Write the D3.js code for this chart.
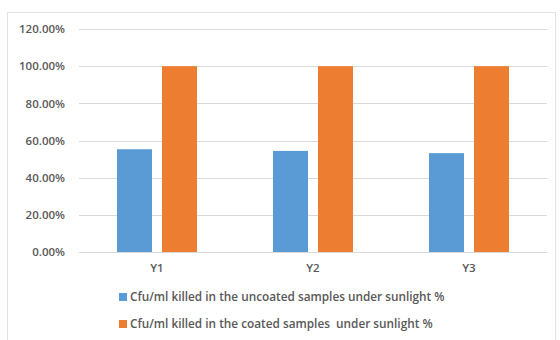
<!DOCTYPE html>
<html>
<head>
<meta charset="utf-8">
<script src="https://cdn.jsdelivr.net/npm/d3@7"></script>
<style>
  html, body { margin: 0; padding: 0; background: #fff; }
  svg { display: block; }
  text { font-family: "Open Sans", "Noto Sans", sans-serif; white-space: pre; }
</style>
</head>
<body>
<svg id="chart" width="560" height="340"></svg>
<script>
// Chart data
const categories = ["Y1", "Y2", "Y3"];
const uncoated = [0.553, 0.544, 0.532];
const coated = [1.0, 1.0, 1.0];
const seriesNames = [
  "Cfu/ml killed in the uncoated samples under sunlight %",
  "Cfu/ml killed in the coated samples  under sunlight %"
];
const tickValues = [0, 0.2, 0.4, 0.6, 0.8, 1.0, 1.2];

const colors = ["#5b9bd5", "#ed7d31"];
const series = [uncoated, coated];

const svg = d3.select("#chart");

// Chart frame
svg.append("rect")
  .attr("x", 7.5).attr("y", 12.5)
  .attr("width", 548).attr("height", 340)
  .attr("fill", "none")
  .attr("stroke", "#e3e3e3");

const plot = { left: 79, right: 547, top: 29, bottom: 252 };

const y = d3.scaleLinear().domain([0, 1.2]).range([plot.bottom, plot.top]);
const x = d3.scaleBand().domain(categories).range([plot.left, plot.right]);
const groupWidth = 80;
const inner = d3.scaleBand().domain(d3.range(series.length))
  .range([0, groupWidth]).paddingInner(10 / 45);

// Gridlines
svg.append("g")
  .selectAll("line")
  .data(tickValues)
  .join("line")
  .attr("x1", plot.left).attr("x2", plot.right)
  .attr("y1", d => Math.round(y(d)) + 0.5)
  .attr("y2", d => Math.round(y(d)) + 0.5)
  .attr("stroke", "#d9d9d9")
  .attr("stroke-width", 1);

// Y axis labels
const yAxis = d3.axisLeft(y)
  .tickValues(tickValues)
  .tickFormat(d => (d * 100).toFixed(2) + "%")
  .tickSize(0)
  .tickPadding(14);
const yg = svg.append("g")
  .attr("transform", `translate(${plot.left},0)`)
  .call(yAxis);
yg.select(".domain").remove();
yg.selectAll("text")
  .attr("fill", "#595959")
  .attr("font-size", 11.5)
  .attr("font-weight", 600)
  .style("font-family", "'Open Sans', sans-serif");

// Bars
series.forEach((vals, si) => {
  svg.append("g")
    .selectAll("rect")
    .data(categories.map((c, i) => ({ c, v: vals[i] })))
    .join("rect")
    .attr("x", d => x(d.c) + (x.bandwidth() - groupWidth) / 2 + inner(si))
    .attr("width", inner.bandwidth())
    .attr("y", d => y(d.v))
    .attr("height", d => y(0) - y(d.v))
    .attr("fill", colors[si]);
});

// X axis labels
const xAxis = d3.axisBottom(x).tickSize(0).tickPadding(12);
const xg = svg.append("g")
  .attr("transform", `translate(0,${plot.bottom})`)
  .call(xAxis);
xg.select(".domain").remove();
xg.selectAll("text")
  .attr("fill", "#595959")
  .attr("font-size", 11.5)
  .attr("font-weight", 600)
  .style("font-family", "'Open Sans', sans-serif");

// Legend
const legend = svg.append("g").attr("transform", "translate(119,0)");
seriesNames.forEach((name, i) => {
  const cy = 297 + i * 27;
  legend.append("rect")
    .attr("x", 0).attr("y", cy - 4)
    .attr("width", 8).attr("height", 8)
    .attr("fill", colors[i]);
  legend.append("text")
    .attr("x", 11).attr("y", cy)
    .attr("dy", "0.35em")
    .attr("fill", "#595959")
    .attr("font-size", 11.8)
    .attr("font-weight", 600)
    .text(name);
});
</script>
</body>
</html>
